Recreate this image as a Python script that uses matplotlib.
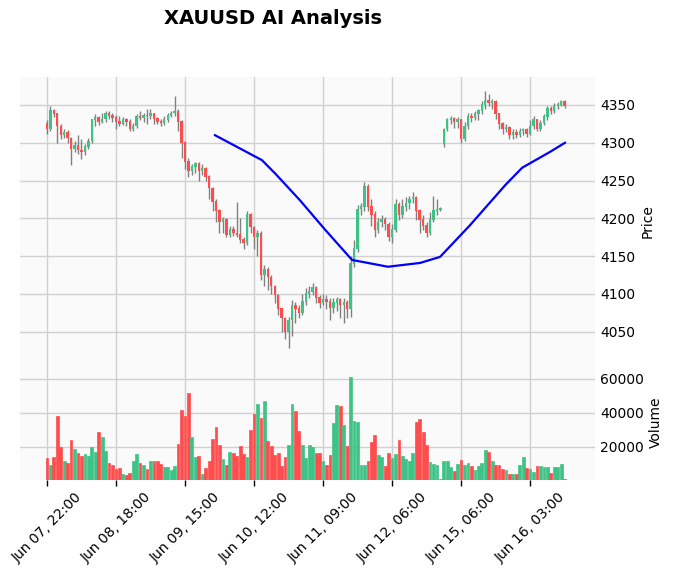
import matplotlib
matplotlib.use('Agg')
from matplotlib import pyplot as plt
import numpy as np

# hourly XAUUSD candles, index 0 = Jun 07 22:00
closes = [4318, 4342, 4338, 4322, 4310, 4314, 4306, 4292, 4296, 4290,
          4288, 4295, 4302, 4330, 4333, 4328, 4331, 4338, 4336, 4333,
          4328, 4325, 4330, 4328, 4318, 4322, 4335, 4333, 4336, 4335,
          4338, 4332, 4328, 4326, 4330, 4336, 4339, 4341, 4328, 4300,
          4275, 4262, 4268, 4272, 4262, 4266, 4255, 4240, 4222, 4210,
          4195, 4198, 4178, 4185, 4180, 4178, 4172, 4168, 4205, 4188,
          4175, 4180, 4125, 4132, 4122, 4110, 4098, 4080, 4068, 4050,
          4065, 4085, 4080, 4075, 4090, 4100, 4103, 4108, 4095, 4088,
          4093, 4090, 4082, 4088, 4092, 4085, 4088, 4080, 4140, 4160,
          4212, 4215, 4242, 4215, 4205, 4185, 4195, 4198, 4192, 4175,
          4185, 4218, 4205, 4215, 4220, 4225, 4228, 4210, 4198, 4190,
          4180, 4198, 4210, 4211, 4213, 4318, 4330, 4332, 4328, 4330,
          4305, 4322, 4335, 4333, 4338, 4342, 4350, 4356, 4352, 4355,
          4338, 4325, 4318, 4320, 4310, 4313, 4310, 4315, 4317, 4312,
          4322, 4330, 4318, 4326, 4334, 4345, 4342, 4348, 4350, 4355, 4348]
opens = [4325] + closes[:-1]
opens[115] = 4298  # weekend gap open

highs = [4330, 4348, 4345, 4340, 4325, 4318, 4317, 4308, 4302, 4310,
         4305, 4298, 4306, 4332, 4338, 4335, 4340, 4342, 4342, 4340,
         4337, 4335, 4334, 4333, 4331, 4326, 4338, 4342, 4340, 4345,
         4345, 4340, 4334, 4332, 4336, 4340, 4342, 4362, 4345, 4330,
         4302, 4280, 4272, 4275, 4274, 4272, 4268, 4258, 4242, 4225,
         4212, 4202, 4200, 4190, 4190, 4222, 4200, 4175, 4210, 4207,
         4190, 4185, 4183, 4138, 4135, 4125, 4112, 4100, 4082, 4070,
         4070, 4092, 4090, 4085, 4100, 4108, 4110, 4115, 4110, 4098,
         4100, 4098, 4094, 4095, 4096, 4095, 4095, 4092, 4150, 4172,
         4218, 4220, 4248, 4245, 4225, 4210, 4200, 4205, 4202, 4195,
         4192, 4225, 4222, 4225, 4228, 4230, 4235, 4230, 4212, 4205,
         4195, 4208, 4230, 4225, 4215, 4320, 4333, 4335, 4334, 4334,
         4332, 4328, 4340, 4340, 4342, 4345, 4355, 4368, 4365, 4358,
         4357, 4340, 4328, 4325, 4322, 4318, 4318, 4320, 4320, 4320,
         4330, 4335, 4332, 4330, 4338, 4348, 4348, 4352, 4354, 4357, 4357]
lows = [4312, 4315, 4334, 4300, 4305, 4306, 4300, 4270, 4288, 4285,
        4278, 4284, 4292, 4300, 4322, 4324, 4326, 4328, 4332, 4328,
        4318, 4322, 4323, 4322, 4315, 4316, 4320, 4330, 4328, 4325,
        4332, 4325, 4325, 4322, 4324, 4328, 4334, 4336, 4315, 4280,
        4265, 4255, 4258, 4260, 4250, 4258, 4250, 4225, 4210, 4195,
        4180, 4180, 4175, 4175, 4176, 4175, 4168, 4160, 4165, 4180,
        4160, 4150, 4118, 4110, 4105, 4100, 4088, 4072, 4050, 4040,
        4028, 4045, 4062, 4068, 4072, 4085, 4095, 4098, 4088, 4082,
        4085, 4080, 4065, 4075, 4078, 4068, 4062, 4068, 4070, 4135,
        4155, 4205, 4210, 4210, 4190, 4175, 4180, 4188, 4185, 4170,
        4168, 4182, 4198, 4200, 4210, 4212, 4220, 4198, 4180, 4185,
        4175, 4178, 4195, 4205, 4210, 4295, 4315, 4325, 4320, 4320,
        4300, 4302, 4318, 4328, 4330, 4330, 4338, 4345, 4348, 4345,
        4332, 4318, 4312, 4314, 4305, 4305, 4306, 4308, 4310, 4308,
        4310, 4318, 4315, 4315, 4324, 4330, 4338, 4340, 4345, 4348, 4346]
volumes = [13500, 9200, 14000, 38000, 20000, 11800, 10600, 24000, 18800, 16500,
           14700, 15900, 14700, 20000, 17000, 28800, 25900, 17600, 10600, 9200,
           7000, 7600, 4100, 3500, 4700, 11800, 15900, 10600, 9400, 7000,
           11800, 11800, 11800, 10000, 8200, 8200, 6500, 8800, 22000, 41700,
           38000, 51700, 25900, 14000, 14700, 4100, 7600, 11800, 24700, 31800,
           21000, 13000, 9400, 17000, 16500, 14700, 20600, 16000, 14000, 30000,
           39400, 45000, 37000, 47000, 23500, 20600, 15300, 16500, 8800, 14000,
           21000, 45000, 41000, 29400, 21000, 13500, 21000, 20000, 16500, 16500,
           11800, 9400, 15300, 34000, 44700, 44000, 33000, 20600, 61000, 35000,
           34700, 9400, 9400, 11800, 23000, 27000, 15300, 14000, 8800, 16500,
           13500, 15900, 24000, 14700, 13000, 11800, 16500, 34700, 36500, 28800,
           21000, 11200, 10000, 9400, 1200, 11800, 11800, 8200, 5900, 10000,
           12300, 9400, 10600, 8800, 6500, 8800, 10600, 18200, 17000, 11800,
           9400, 9400, 7000, 6500, 4100, 4100, 4100, 9400, 14000, 7600,
           7000, 5300, 8800, 8800, 8200, 8200, 4700, 8200, 8200, 10000, 1200]

# moving average line, (candle index, value)
ma_idx = [48.7, 62.3, 66, 73.3, 80.6, 88.4, 98.8, 108.1, 113.9, 122.6, 132.8, 137.7, 145.8, 150.1]
ma_val = [4310, 4277, 4260, 4224, 4185, 4145, 4136, 4141, 4149, 4191, 4244, 4267, 4288, 4300]

tick_pos = [0, 20, 40, 60, 80, 100, 120, 140]
tick_labels = ['Jun 07, 22:00', 'Jun 08, 18:00', 'Jun 09, 15:00', 'Jun 10, 12:00',
               'Jun 11, 09:00', 'Jun 12, 06:00', 'Jun 15, 06:00', 'Jun 16, 03:00']

up_c = '#3ec285'
dn_c = '#ff4d4d'
W, H = 676, 574
fig = plt.figure(figsize=(W / 100, H / 100), dpi=100)
ax = fig.add_axes([20 / W, 1 - 365 / H, 575 / W, 288 / H])
axv = fig.add_axes([20 / W, 1 - 480 / H, 575 / W, 115 / H], sharex=ax)

x = np.arange(len(closes))
o = np.array(opens); c = np.array(closes)
colors = [up_c if cc >= oo else dn_c for oo, cc in zip(o, c)]

ax.vlines(x, lows, highs, color='#808080', linewidth=1, zorder=2)
ax.bar(x, np.abs(c - o) + 0.8, bottom=np.minimum(o, c), width=0.7, color=colors, zorder=3)
ax.plot(ma_idx, ma_val, color='blue', linewidth=1.6, zorder=4)

axv.bar(x, volumes, width=0.8, color=colors, edgecolor=colors, linewidth=0.5, zorder=3)

for a in (ax, axv):
    a.set_facecolor('#fafafa')
    a.grid(True, color='#d0d0d0', linewidth=1)
    a.set_axisbelow(True)
    for s in a.spines.values():
        s.set_visible(False)
    a.yaxis.tick_right()
    a.yaxis.set_label_position('right')
    a.tick_params(axis='y', length=0, labelsize=10)

ax.set_xlim(-7.8, 158.8)
ax.set_ylim(4006, 4387)
ax.set_yticks([4050, 4100, 4150, 4200, 4250, 4300, 4350])
ax.set_ylabel('Price', fontsize=10)
ax.tick_params(axis='x', labelbottom=False, length=0)

axv.set_ylim(600, 68200)
axv.set_yticks([20000, 40000, 60000])
axv.set_ylabel('Volume', fontsize=10)
axv.set_xticks(tick_pos)
axv.set_xticklabels(tick_labels, rotation=45, ha='center', fontsize=10)
axv.tick_params(axis='x', length=4, width=1)

fig.text(273 / W, 1 - 19 / H, 'XAUUSD AI Analysis', ha='center', va='center',
         fontsize=14, fontweight='bold')

fig.savefig('out.png', dpi=100)
